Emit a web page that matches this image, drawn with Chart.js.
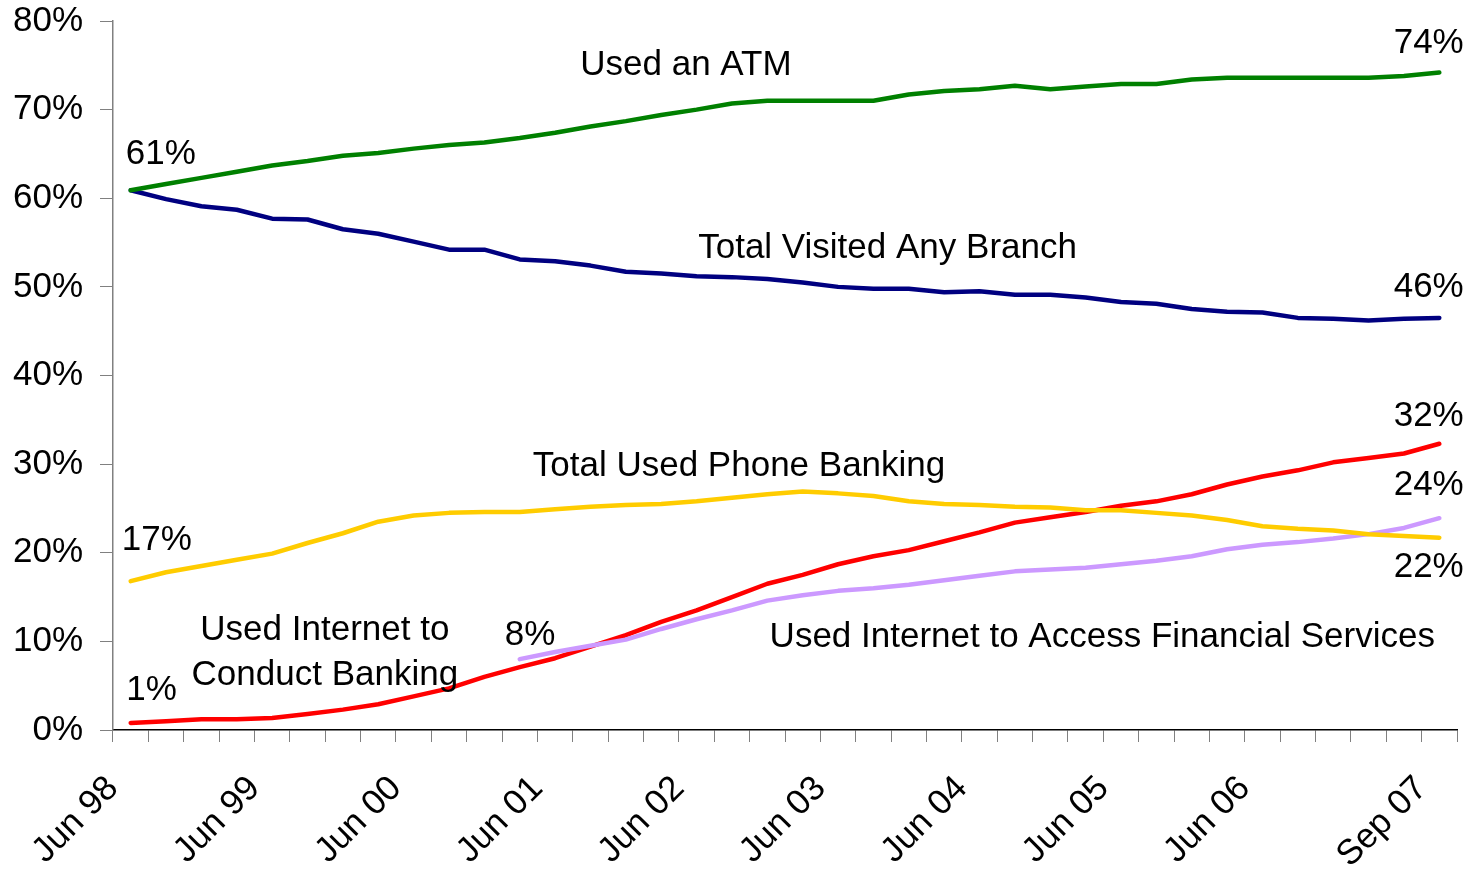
<!DOCTYPE html>
<html>
<head>
<meta charset="utf-8">
<script src="https://cdn.jsdelivr.net/npm/chart.js@4.4.0/dist/chart.umd.min.js"></script>
<style>
  html, body { margin: 0; padding: 0; background: #fff; }
  #wrap { width: 1479px; height: 872px; }
</style>
</head>
<body>
<div id="wrap"><canvas id="chart" width="1479" height="872"></canvas></div>
<script>
// Quarterly categories, Jun 98 .. Sep 07
const quarters = [
    'Jun 98', 'Sep 98', 'Dec 98', 'Mar 99', 'Jun 99', 'Sep 99', 'Dec 99', 'Mar 00',
    'Jun 00', 'Sep 00', 'Dec 00', 'Mar 01', 'Jun 01', 'Sep 01', 'Dec 01', 'Mar 02',
    'Jun 02', 'Sep 02', 'Dec 02', 'Mar 03', 'Jun 03', 'Sep 03', 'Dec 03', 'Mar 04',
    'Jun 04', 'Sep 04', 'Dec 04', 'Mar 05', 'Jun 05', 'Sep 05', 'Dec 05', 'Mar 06',
    'Jun 06', 'Sep 06', 'Dec 06', 'Mar 07', 'Jun 07', 'Sep 07'
];
const shownTicks = ['Jun 98', 'Jun 99', 'Jun 00', 'Jun 01', 'Jun 02', 'Jun 03', 'Jun 04', 'Jun 05', 'Jun 06', 'Sep 07'];

// Series values (%)
const usedAtm = [60.9, 61.6, 62.3, 63.0, 63.7, 64.2, 64.8, 65.1, 65.6, 66.0, 66.3, 66.8, 67.4, 68.1, 68.7, 69.4, 70.0, 70.7, 71.0, 71.0,
    71.0, 71.0, 71.7, 72.1, 72.3, 72.7, 72.3, 72.6, 72.9, 72.9, 73.4, 73.6, 73.6, 73.6, 73.6, 73.6, 73.8, 74.2];
const visitedBranch = [60.9, 59.9, 59.1, 58.7, 57.7, 57.6, 56.5, 56.0, 55.1, 54.2, 54.2, 53.1, 52.9, 52.4, 51.7, 51.5, 51.2, 51.1, 50.9, 50.5,
    50.0, 49.8, 49.8, 49.4, 49.5, 49.1, 49.1, 48.8, 48.3, 48.1, 47.5, 47.2, 47.1, 46.5, 46.4, 46.2, 46.4, 46.5];
const phoneBanking = [16.8, 17.8, 18.5, 19.2, 19.9, 21.1, 22.2, 23.5, 24.2, 24.5, 24.6, 24.6, 24.9, 25.2, 25.4, 25.5, 25.8, 26.2, 26.6, 26.9,
    26.7, 26.4, 25.8, 25.5, 25.4, 25.2, 25.1, 24.8, 24.8, 24.5, 24.2, 23.7, 23.0, 22.7, 22.5, 22.1, 21.9, 21.7];
const internetBanking = [0.8, 1.0, 1.2, 1.2, 1.35, 1.8, 2.3, 2.9, 3.8, 4.7, 6.0, 7.1, 8.1, 9.4, 10.7, 12.2, 13.5, 15.0, 16.5, 17.5,
    18.7, 19.6, 20.3, 21.3, 22.3, 23.4, 24.0, 24.6, 25.3, 25.8, 26.6, 27.7, 28.6, 29.3, 30.2, 30.7, 31.2, 32.3];
const internetFinancial = [null, null, null, null, null, null, null, null, null, null, null,
    8.0, 8.8, 9.5, 10.2, 11.4, 12.5, 13.5, 14.6, 15.2, 15.7, 16.0, 16.4, 16.9, 17.4, 17.9, 18.1, 18.3, 18.7,
    19.1, 19.6, 20.4, 20.9, 21.2, 21.6, 22.1, 22.8, 23.9];

// Text annotations placed in data units (category index, percent)
const annotations = [
    { text: 'Used an ATM', x: 15.7, y: 75.0 },
    { text: '61%', x: 0.85, y: 64.9 },
    { text: '74%', x: 36.7, y: 77.5 },
    { text: 'Total Visited Any Branch', x: 21.4, y: 54.4 },
    { text: '46%', x: 36.7, y: 50.0 },
    { text: '32%', x: 36.7, y: 35.4 },
    { text: '24%', x: 36.7, y: 27.6 },
    { text: '22%', x: 36.7, y: 18.4 },
    { text: 'Total Used Phone Banking', x: 17.2, y: 29.8 },
    { text: '17%', x: 0.74, y: 21.4 },
    { text: 'Used Internet to', x: 5.49, y: 11.2 },
    { text: 'Conduct Banking', x: 5.49, y: 6.2 },
    { text: '1%', x: 0.59, y: 4.5 },
    { text: '8%', x: 11.29, y: 10.7 },
    { text: 'Used Internet to Access Financial Services', x: 27.47, y: 10.4 }
];

const FONT = 'Liberation Sans, Arial, sans-serif';

const annotationPlugin = {
    id: 'annotationText',
    afterDatasetsDraw(chart) {
        const ctx = chart.ctx;
        const xs = chart.scales.x;
        const ys = chart.scales.y;
        ctx.save();
        ctx.font = '35px ' + FONT;
        ctx.fillStyle = '#000';
        ctx.textAlign = 'center';
        ctx.textBaseline = 'middle';
        annotations.forEach(a => {
            ctx.fillText(a.text, xs.getPixelForValue(a.x), ys.getPixelForValue(a.y));
        });
        ctx.restore();
    }
};

function lineSet(label, data, color) {
    return {
        label: label,
        data: data,
        borderColor: color,
        backgroundColor: color,
        borderWidth: 4.5,
        pointRadius: 0,
        tension: 0,
        fill: false,
        spanGaps: false,
        borderJoinStyle: 'round',
        borderCapStyle: 'round'
    };
}

const ctx = document.getElementById('chart').getContext('2d');
new Chart(ctx, {
    type: 'line',
    data: {
        labels: quarters,
        datasets: [
            lineSet('Used an ATM', usedAtm, '#008000'),
            lineSet('Total Visited Any Branch', visitedBranch, '#000080'),
            lineSet('Total Used Phone Banking', phoneBanking, '#FFCC00'),
            lineSet('Used Internet to Access Financial Services', internetFinancial, '#CC99FF'),
            lineSet('Used Internet to Conduct Banking', internetBanking, '#FF0000')
        ]
    },
    options: {
        responsive: false,
        animation: false,
        devicePixelRatio: 1,
        layout: { padding: { top: 21, right: 22, left: 0, bottom: 0 } },
        plugins: {
            legend: { display: false },
            tooltip: { enabled: false }
        },
        scales: {
            x: {
                offset: true,
                afterFit(scale) {
                    scale.height = 142;
                    scale.paddingLeft = 0;
                    scale.paddingRight = 0;
                },
                grid: {
                    drawOnChartArea: false,
                    drawTicks: true,
                    tickLength: 12,
                    color: '#808080',
                    offset: true
                },
                border: { color: '#000', width: 1.5 },
                ticks: {
                    autoSkip: false,
                    maxRotation: 45,
                    minRotation: 45,
                    labelOffset: -17.67,
                    padding: 26,
                    color: '#000',
                    font: { family: FONT, size: 35 },
                    callback(value) {
                        const lbl = quarters[value];
                        return shownTicks.includes(lbl) ? lbl : '';
                    }
                }
            },
            y: {
                min: 0,
                max: 80,
                afterFit(scale) {
                    scale.width = 113;
                    scale.paddingTop = 0;
                    scale.paddingBottom = 0;
                },
                grid: {
                    drawOnChartArea: false,
                    drawTicks: true,
                    tickLength: 13,
                    color: '#808080'
                },
                border: { color: '#808080', width: 1.5 },
                ticks: {
                    stepSize: 10,
                    padding: 17,
                    color: '#000',
                    font: { family: FONT, size: 35 },
                    callback(v) { return v + '%'; }
                }
            }
        }
    },
    plugins: [annotationPlugin]
});
</script>
</body>
</html>
